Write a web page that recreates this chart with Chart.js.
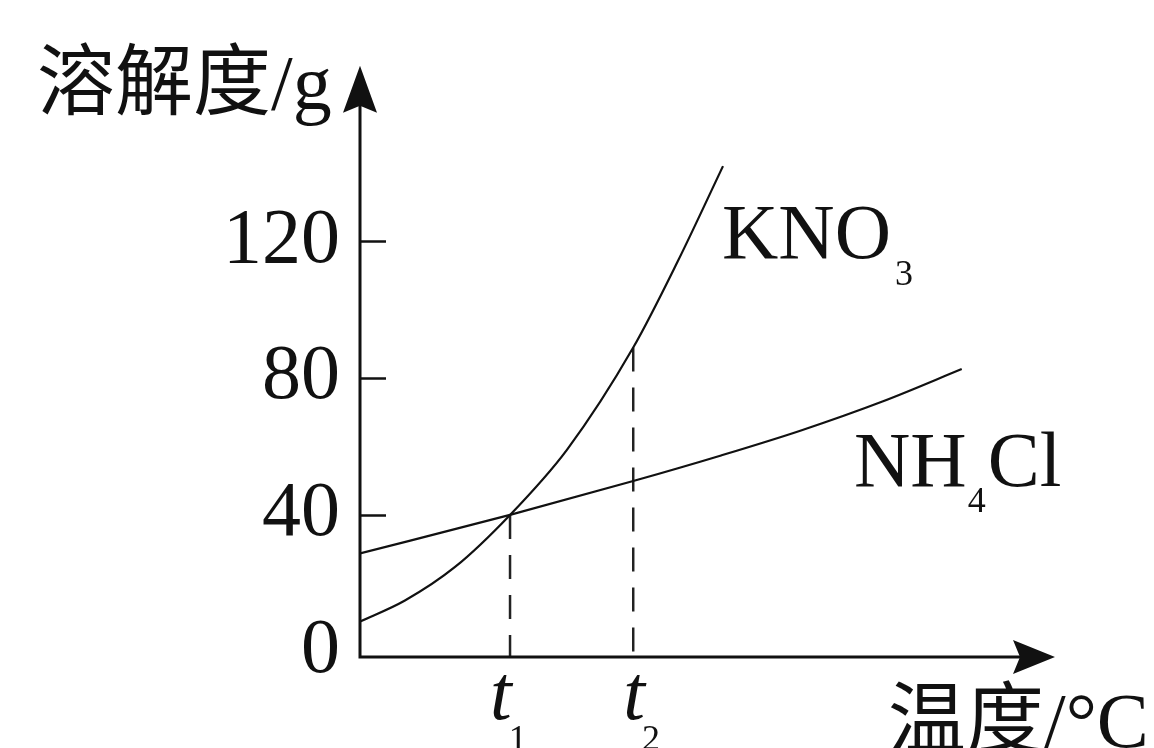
<!DOCTYPE html>
<html>
<head>
<meta charset="utf-8">
<script src="https://cdn.jsdelivr.net/npm/chart.js@4/dist/chart.umd.min.js"></script>
<style>
  html, body { margin: 0; padding: 0; background: #fff; overflow: hidden; }
  #wrap { width: 1154px; height: 748px; position: relative; }
</style>
</head>
<body>
<div id="wrap"><canvas id="c"></canvas></div>
<script>
// Solubility curves (temperature on a schematic 0–100 scale, solubility in g)
const kno3Temps  = [0, 6.6, 13.8, 21.7, 29.9, 39.4, 45.8, 52.3];
const kno3Sol    = [8.7, 15.0, 24.8, 40, 59.1, 88.9, 114.1, 141.9];
const nh4clTemps = [0, 21.7, 39.4, 51.9, 63.4, 75.3, 86.6];
const nh4clSol   = [28.7, 40, 49.9, 57.3, 64.6, 73.2, 82.6];

// Marked temperatures t1, t2 and the solubility each dashed guide rises to
const markTemps  = [21.7, 39.4];
const markSubs   = ['1', '2'];
const markTops   = [40, 88.9];

// Y-axis tick values
const yTicks = [0, 40, 80, 120];

const SERIF = '"Liberation Serif", "Times New Roman", serif';
const CJK = '"Noto Sans CJK SC", "Noto Sans CJK TC", sans-serif';
const INK = '#111';
const Y_MIN = -1.5, Y_MAX = 171.2;

const toPts = (xs, ys) => xs.map((x, i) => ({ x, y: ys[i] }));

const guideSets = markTemps.map((t, i) => ({
  label: 't' + markSubs[i],
  data: [{ x: t, y: markTops[i] }, { x: t, y: Y_MIN }],
  borderColor: '#222',
  borderWidth: 2.5,
  borderDash: [24, 16],
  pointRadius: 0,
  tension: 0,
  showLine: true
}));

const decor = {
  id: 'decor',
  afterDraw(chart) {
    const { ctx, chartArea: a, scales: { x, y } } = chart;
    ctx.save();
    ctx.strokeStyle = INK;
    ctx.fillStyle = INK;

    const ox = a.left + 1, oy = a.bottom;
    // axis lines
    ctx.lineWidth = 3;
    ctx.beginPath();
    ctx.moveTo(ox, oy + 1.5); ctx.lineTo(ox, a.top + 30);
    ctx.moveTo(ox - 1.5, oy); ctx.lineTo(a.right - 30, oy);
    ctx.stroke();

    // arrow heads
    ctx.beginPath();
    ctx.moveTo(ox, a.top);
    ctx.lineTo(ox - 17, a.top + 47);
    ctx.lineTo(ox, a.top + 40);
    ctx.lineTo(ox + 17, a.top + 47);
    ctx.closePath(); ctx.fill();
    ctx.beginPath();
    ctx.moveTo(a.right, oy);
    ctx.lineTo(a.right - 42, oy - 17);
    ctx.lineTo(a.right - 35, oy);
    ctx.lineTo(a.right - 42, oy + 17);
    ctx.closePath(); ctx.fill();

    // inward tick marks on the y axis
    ctx.lineWidth = 2.5;
    yTicks.forEach(v => {
      if (v === 0) return;
      const py = Math.round(y.getPixelForValue(v)) + 0.5;
      ctx.beginPath(); ctx.moveTo(ox, py); ctx.lineTo(ox + 26, py); ctx.stroke();
    });

    ctx.textBaseline = 'alphabetic';
    ctx.textAlign = 'left';
    const text = (s, px, py, font) => {
      ctx.font = font; ctx.fillText(s, px, py);
      return px + ctx.measureText(s).width;
    };

    // axis titles
    let cx = text('溶解度', 37, 109, '78px ' + CJK);
    text('/g', cx, 109, '78px ' + SERIF);
    cx = text('温度', 888, 747, '78px ' + CJK);
    text('/°C', cx, 747, '78px ' + SERIF);

    // series labels
    cx = text('KNO', 722, 258, '78px ' + SERIF);
    text('3', cx + 4, 285, '36px ' + SERIF);
    cx = text('NH', 854, 486, '78px ' + SERIF);
    cx = text('4', cx + 1, 512, '36px ' + SERIF);
    text('Cl', cx + 2, 486, '78px ' + SERIF);

    // t1, t2 under the axis
    const dx = [-20, -10];
    markTemps.forEach((t, i) => {
      const px = x.getPixelForValue(t);
      const e = text('t', px + dx[i], 719, 'italic 78px ' + SERIF);
      text(markSubs[i], e - 3, 750, '36px ' + SERIF);
    });

    ctx.restore();
  }
};

new Chart(document.getElementById('c'), {
  type: 'scatter',
  data: {
    datasets: [
      {
        label: 'KNO3',
        data: toPts(kno3Temps, kno3Sol),
        borderColor: INK, borderWidth: 2.2,
        pointRadius: 0, showLine: true,
        cubicInterpolationMode: 'monotone'
      },
      {
        label: 'NH4Cl',
        data: toPts(nh4clTemps, nh4clSol),
        borderColor: INK, borderWidth: 2.2,
        pointRadius: 0, showLine: true,
        cubicInterpolationMode: 'monotone'
      },
      ...guideSets
    ]
  },
  options: {
    responsive: true,
    maintainAspectRatio: false,
    animation: false,
    events: [],
    layout: { padding: { left: 0, right: 99, top: 63, bottom: 91 } },
    plugins: { legend: { display: false }, tooltip: { enabled: false } },
    scales: {
      x: { type: 'linear', min: 0, max: 100, display: false },
      y: {
        type: 'linear', min: Y_MIN, max: Y_MAX,
        afterBuildTicks: s => { s.ticks = yTicks.map(value => ({ value })); },
        afterFit: s => { s.width = 359; },
        grid: { display: false, drawTicks: false },
        border: { display: false },
        ticks: {
          padding: 19,
          color: INK,
          font: { family: SERIF, size: 78 },
          callback: v => String(v)
        }
      }
    }
  },
  plugins: [decor]
});
</script>
</body>
</html>
